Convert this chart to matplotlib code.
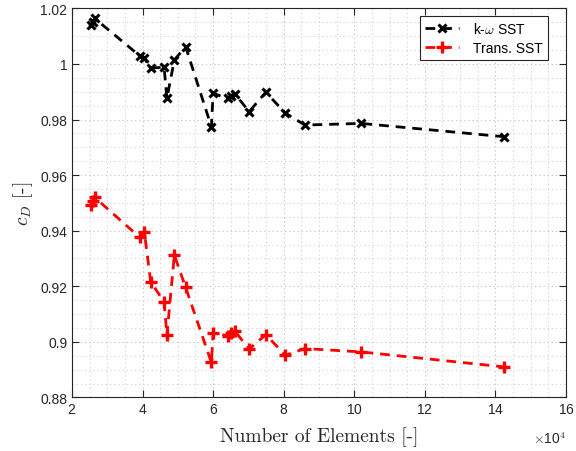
import matplotlib
matplotlib.use("Agg")
import matplotlib.pyplot as plt
from matplotlib.ticker import MultipleLocator, FuncFormatter, ScalarFormatter

# number of mesh elements
n_elements = [25400, 26000, 26400, 39200, 40500, 42300, 46100, 46900, 49000, 52200,
              59500, 60000, 64100, 65000, 66200, 70200, 74900, 80500, 86000, 101900, 142500]
# drag coefficient, k-omega SST
cd_kw_sst = [1.0140, 1.0152, 1.0164, 1.0029, 1.0020, 0.9985, 0.9988, 0.9876, 1.0014, 1.0062,
             0.9774, 0.9894, 0.9876, 0.9885, 0.9892, 0.9828, 0.9898, 0.9823, 0.9780, 0.9786, 0.9738]
# drag coefficient, Transition SST
cd_trans_sst = [0.9493, 0.9508, 0.9520, 0.9376, 0.9396, 0.9216, 0.9144, 0.9024, 0.9312, 0.9196,
                0.8926, 0.9032, 0.9022, 0.9032, 0.9038, 0.8974, 0.9026, 0.8952, 0.8976, 0.8964, 0.8910]
series_labels = ["k-$\\omega$ SST", "Trans. SST"]

plt.rcParams['mathtext.fontset'] = 'cm'
plt.rcParams['font.family'] = ['Liberation Sans', 'DejaVu Sans']
plt.rcParams['lines.scale_dashes'] = False

fig = plt.figure(figsize=(5.76, 4.52), dpi=100)
ax = fig.add_axes([0.125, 0.1184, 0.8576, 0.861])

ax.plot(n_elements, cd_kw_sst, color='black', linestyle='--', dashes=(7, 5), lw=2,
        marker='x', markersize=6, markeredgewidth=2.2, label=series_labels[0], zorder=3)
ax.plot(n_elements, cd_trans_sst, color='red', linestyle='--', dashes=(7, 5), lw=2,
        marker='+', markersize=8, markeredgewidth=2.4, label=series_labels[1], zorder=3)

ax.set_xlim(20000, 160000)
ax.set_ylim(0.88, 1.02)
ax.xaxis.set_major_locator(MultipleLocator(20000))
ax.xaxis.set_minor_locator(MultipleLocator(5000))
ax.yaxis.set_major_locator(MultipleLocator(0.02))
ax.yaxis.set_minor_locator(MultipleLocator(0.005))

fmt = ScalarFormatter(useMathText=True)
fmt.set_powerlimits((4, 4))
ax.xaxis.set_major_formatter(fmt)
ax.yaxis.set_major_formatter(FuncFormatter(lambda v, p: f"{v:g}"))
ax.xaxis.get_offset_text().set_visible(False)
ax.text(1.0, -0.105, r'$\times$10$^4$', transform=ax.transAxes, ha='right', va='center',
        fontsize=10, color='#262626')

ax.grid(True, which='major', linestyle=(0, (1, 2)), color='#c8c8c8', linewidth=0.8)
ax.grid(True, which='minor', linestyle=(0, (1, 2)), color='#d8d8d8', linewidth=0.8)
ax.set_axisbelow(True)

ax.tick_params(which='major', direction='in', top=True, right=True, length=5,
               width=0.8, labelsize=10, colors='#262626')
ax.tick_params(which='minor', length=0)
for s in ax.spines.values():
    s.set_color('#262626')
    s.set_linewidth(0.8)

ax.set_xlabel('Number of Elements [-]', fontfamily='cmr10', fontsize=14, color='#262626', labelpad=7)
ax.set_ylabel('$c_D$ [-]', fontfamily='cmr10', fontsize=14, color='#262626', labelpad=4)

leg = ax.legend(loc='upper right', bbox_to_anchor=(0.9636, 0.980), fontsize=10, frameon=True,
                fancybox=False, edgecolor='#262626', framealpha=1, handlelength=2.5,
                borderpad=0.35, labelspacing=0.35, handletextpad=1.0, borderaxespad=0)
leg.get_frame().set_linewidth(0.8)

fig.savefig('out.png', dpi=100)
